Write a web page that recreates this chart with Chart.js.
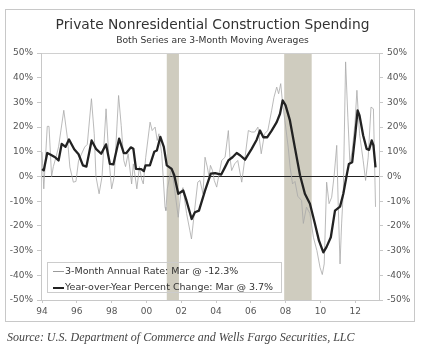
<!DOCTYPE html>
<html>
<head>
<meta charset="utf-8">
<script src="https://cdn.jsdelivr.net/npm/chart.js@4/dist/chart.umd.min.js"></script>
<style>
  body { margin: 0; background: #fff; }
  #wrap { position: relative; width: 425px; height: 354px; font-family: "DejaVu Sans", sans-serif; }
  #frame { position: absolute; left: 5px; top: 9px; width: 410px; height: 313px; border: 1px solid #c8c8c8; box-sizing: border-box; }
  #chart { position: absolute; left: 0; top: 0; }
  .title { position: absolute; left: 0; width: 425px; text-align: center; color: #333; white-space: nowrap; }
  #legend { position: absolute; left: 47px; top: 262px; width: 235px; height: 31px; border: 1px solid #ccc; box-sizing: border-box; font-size: 9.5px; color: #333; }
  .row { position: absolute; left: 5px; height: 12px; line-height: 12px; white-space: nowrap; }
  .swatch { display: inline-block; width: 11px; vertical-align: middle; margin-right: 1px; }
  #source { position: absolute; left: 7px; top: 330px; font-family: "Liberation Serif", serif; font-style: italic; font-size: 12px; color: #444; white-space: nowrap; }
</style>
</head>
<body>
<div id="wrap">
  <div id="frame"></div>
  <canvas id="chart" width="425" height="354"></canvas>
  <div class="title" style="top:16px;font-size:13.8px;">Private Nonresidential Construction Spending</div>
  <div class="title" style="top:34px;font-size:9.2px;">Both Series are 3-Month Moving Averages</div>
  <div id="legend">
    <div class="row" style="top:2px;"><span class="swatch" style="border-top:1px solid #9a9a9a;"></span>3-Month Annual Rate: Mar @ -12.3%</div>
    <div class="row" style="top:18px;"><span class="swatch" style="border-top:2.5px solid #222;"></span>Year-over-Year Percent Change: Mar @ 3.7%</div>
  </div>
  <div id="source">Source: U.S. Department of Commerce and Wells Fargo Securities, LLC</div>
</div>
<script>
// year-over-year percent change (3-month moving average)
var yoyYears = [1994.0, 1994.1, 1994.3, 1994.5, 1994.75, 1994.95, 1995.13, 1995.35, 1995.55, 1995.85,
  1996.1, 1996.35, 1996.55, 1996.85, 1997.1, 1997.4, 1997.68, 1997.9, 1998.1, 1998.43,
  1998.7, 1998.85, 1999.1, 1999.25, 1999.4, 1999.7, 1999.85, 1999.95, 2000.2, 2000.45,
  2000.6, 2000.8, 2001.0, 2001.17, 2001.45, 2001.6, 2001.83, 2002.12, 2002.3, 2002.6,
  2002.79, 2003.02, 2003.37, 2003.7, 2003.95, 2004.3, 2004.52, 2004.71, 2004.95, 2005.19,
  2005.4, 2005.67, 2006.05, 2006.34, 2006.53, 2006.72, 2006.95, 2007.2, 2007.49, 2007.68,
  2007.83, 2008.0, 2008.25, 2008.54, 2008.83, 2009.11, 2009.4, 2009.69, 2009.92, 2010.17,
  2010.35, 2010.6, 2010.84, 2011.13, 2011.32, 2011.51, 2011.64, 2011.83, 2011.99, 2012.14,
  2012.25, 2012.46, 2012.66, 2012.8, 2012.95, 2013.05, 2013.17];
var yoyValues = [3.0, 2.5, 9.5, 8.8, 7.8, 6.5, 13.2, 12.0, 15.0, 11.0,
  9.0, 4.5, 4.0, 14.6, 11.2, 9.2, 13.0, 5.1, 4.9, 15.3,
  9.5, 9.5, 11.8, 11.2, 3.1, 3.0, 2.2, 4.5, 4.5, 10.0,
  10.5, 16.0, 12.0, 4.5, 3.1, 0.5, -7.0, -5.7, -9.7, -17.2,
  -14.5, -13.8, -5.7, 1.2, 1.4, 0.8, 3.8, 6.5, 7.8, 9.5,
  8.5, 6.8, 11.2, 14.9, 18.6, 15.9, 15.9, 18.6, 22.0, 25.4,
  30.8, 28.8, 22.7, 11.5, 0.5, -7.0, -11.0, -19.2, -26.0, -30.7,
  -28.6, -24.6, -13.8, -12.2, -7.0, 0.4, 5.1, 5.8, 15.9, 26.8,
  24.7, 16.6, 11.2, 10.8, 14.6, 12.6, 3.7];

// 3-month annualized rate
var rateYears = [1994.0, 1994.1, 1994.3, 1994.4, 1994.55, 1994.65, 1994.8, 1994.95, 1995.25, 1995.45,
  1995.6, 1995.8, 1995.95, 1996.1, 1996.45, 1996.6, 1996.84, 1997.0, 1997.1, 1997.28,
  1997.45, 1997.68, 1997.85, 1998.0, 1998.15, 1998.4, 1998.55, 1998.7, 1998.8, 1998.95,
  1999.15, 1999.25, 1999.45, 1999.6, 1999.72, 1999.82, 1999.96, 2000.21, 2000.33, 2000.5,
  2000.62, 2000.72, 2000.88, 2001.07, 2001.12, 2001.2, 2001.45, 2001.58, 2001.83, 2001.97,
  2002.1, 2002.31, 2002.5, 2002.59, 2002.79, 2002.95, 2003.08, 2003.25, 2003.37, 2003.5,
  2003.6, 2003.68, 2003.8, 2003.9, 2004.04, 2004.15, 2004.33, 2004.52, 2004.71, 2004.8,
  2004.9, 2005.07, 2005.25, 2005.48, 2005.67, 2005.86, 2006.05, 2006.22, 2006.41, 2006.6,
  2006.79, 2006.98, 2007.2, 2007.33, 2007.49, 2007.6, 2007.72, 2007.83, 2007.96, 2008.15,
  2008.26, 2008.4, 2008.54, 2008.7, 2008.92, 2009.02, 2009.2, 2009.4, 2009.6, 2009.8,
  2009.98, 2010.11, 2010.22, 2010.36, 2010.5, 2010.65, 2010.8, 2010.94, 2011.03, 2011.13,
  2011.22, 2011.32, 2011.45, 2011.58, 2011.7, 2011.83, 2011.99, 2012.1, 2012.25, 2012.46,
  2012.6, 2012.75, 2012.91, 2013.05, 2013.17];
var rateValues = [9.9, -5.0, 20.3, 20.3, 0.0, 4.0, 7.8, 12.0, 26.8, 16.0,
  3.8, -2.3, -2.0, 6.5, 11.9, 13.0, 31.5, 17.3, 0.0, -7.0,
  0.0, 27.4, 6.5, -5.0, 0.0, 32.8, 20.7, 6.5, 4.0, 9.2,
  -3.0, 5.1, -5.0, 4.0, -1.0, -3.0, 7.8, 22.0, 18.6, 20.0,
  14.6, 17.3, 9.2, -12.4, -13.8, -5.0, 3.8, -3.0, -16.5, -7.0,
  -4.5, -15.0, -22.0, -25.3, -12.4, -2.3, -1.6, -7.0, 7.8, 3.8,
  0.0, 4.5, 2.4, -1.6, -4.3, 0.0, 6.5, 7.8, 18.6, 7.8,
  2.4, 5.1, 6.5, -2.3, 7.8, 18.6, 18.0, 18.0, 20.0, 9.2,
  17.3, 18.6, 26.8, 32.0, 36.2, 33.5, 37.6, 29.5, 22.7, 11.9,
  3.8, -3.0, -2.0, -8.0, -9.7, -19.0, -12.4, -15.0, -24.6, -30.0,
  -36.8, -39.7, -35.4, -2.3, -11.0, -8.4, 1.0, 12.6, -12.4, -35.4,
  -19.2, -5.7, 46.4, 24.0, 5.1, 10.5, 21.6, 34.9, 17.3, 6.5,
  -1.6, 7.8, 28.1, 27.4, -12.3];

// recessions (shaded)
var recessionStart = [2001.17, 2007.92];
var recessionEnd = [2001.87, 2009.5];

var xTickYears = [1994, 1996, 1998, 2000, 2002, 2004, 2006, 2008, 2010, 2012];

function toPoints(xs, ys) {
  return xs.map(function(x, i) { return { x: x, y: ys[i] }; });
}

var shading = {
  id: 'shading',
  beforeDraw: function(chart) {
    var ctx = chart.ctx, a = chart.chartArea, xs = chart.scales.x;
    ctx.save();
    ctx.fillStyle = '#cfccbf';
    for (var i = 0; i < recessionStart.length; i++) {
      var x0 = xs.getPixelForValue(recessionStart[i]);
      var x1 = xs.getPixelForValue(recessionEnd[i]);
      ctx.fillRect(x0, a.top, x1 - x0, a.bottom - a.top);
    }
    ctx.strokeStyle = '#d0d0d0';
    ctx.lineWidth = 1;
    ctx.beginPath();
    ctx.moveTo(a.left, a.top + 0.5);
    ctx.lineTo(a.right, a.top + 0.5);
    ctx.stroke();
    ctx.restore();
  }
};

var tickFont = { family: 'DejaVu Sans', size: 9 };

function yAxis(pos, w) {
  return {
    position: pos,
    min: -50, max: 50,
    ticks: { stepSize: 10, font: tickFont, color: '#555', padding: 4,
      callback: function(v) { return v + '%'; } },
    grid: {
      drawOnChartArea: pos === 'left',
      color: function(c) { return c.tick && c.tick.value === 0 ? '#222' : 'rgba(0,0,0,0)'; },
      tickColor: '#c8c8c8', tickLength: 4
    },
    border: { color: '#c8c8c8' },
    afterFit: function(s) { s.width = w; }
  };
}

new Chart(document.getElementById('chart').getContext('2d'), {
  type: 'line',
  data: {
    datasets: [
      { label: 'Year-over-Year Percent Change', data: toPoints(yoyYears, yoyValues),
        borderColor: '#222', borderWidth: 2.3, pointRadius: 0, tension: 0, borderJoinStyle: 'round', yAxisID: 'y' },
      { label: '3-Month Annual Rate', data: toPoints(rateYears, rateValues),
        borderColor: '#a8a8a8', borderWidth: 0.8, pointRadius: 0, tension: 0, yAxisID: 'y' }
    ]
  },
  options: {
    responsive: false,
    animation: false,
    layout: { padding: { left: 6, right: 10, top: 53, bottom: 34 } },
    plugins: { legend: { display: false }, tooltip: { enabled: false } },
    scales: {
      x: {
        type: 'linear', min: 1993.94, max: 2013.37,
        afterBuildTicks: function(s) { s.ticks = xTickYears.map(function(v) { return { value: v }; }); },
        ticks: { font: tickFont, color: '#555', padding: 3, maxRotation: 0,
          callback: function(v) { return String(v % 100).padStart(2, '0'); } },
        grid: { drawOnChartArea: false, color: '#c8c8c8', tickLength: 3 },
        border: { color: '#c8c8c8' },
        afterFit: function(s) { s.height = 20; }
      },
      y: yAxis('left', 35),
      y2: yAxis('right', 36)
    }
  },
  plugins: [shading]
});
</script>
</body>
</html>
